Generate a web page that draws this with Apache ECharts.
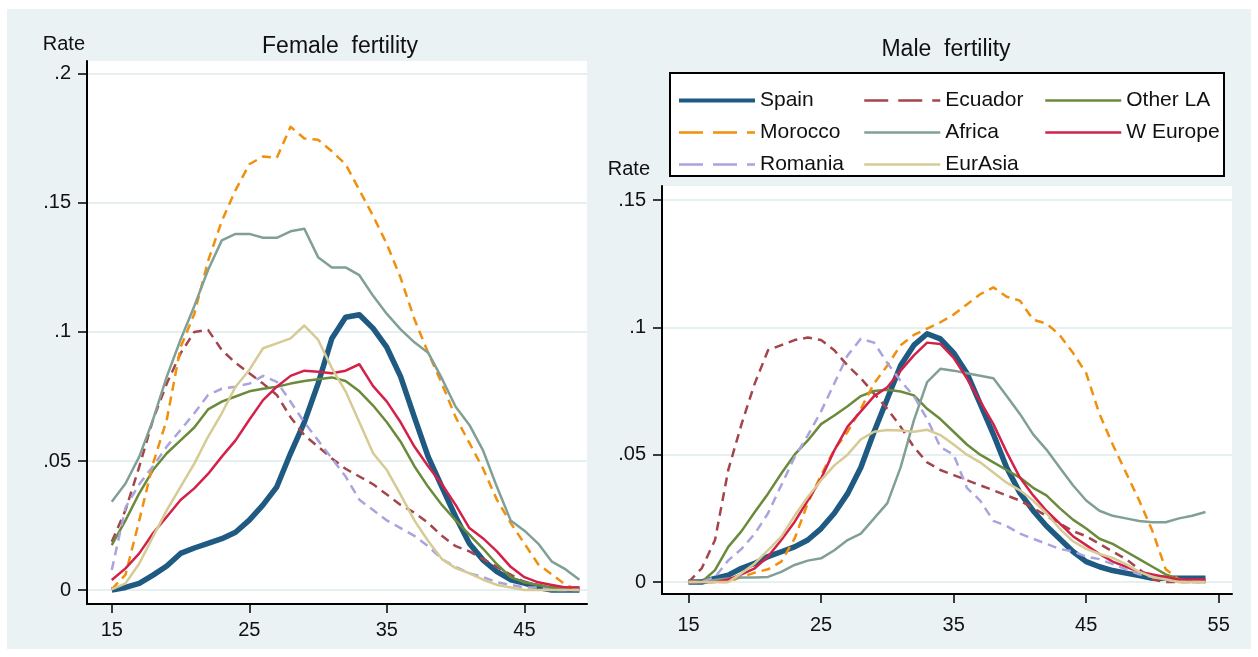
<!DOCTYPE html>
<html>
<head>
<meta charset="utf-8">
<title>Fertility by age</title>
<script src="https://cdn.jsdelivr.net/npm/echarts@6/dist/echarts.min.js"></script>
<style>
  html, body { margin: 0; padding: 0; background: #fff; }
  #chart { width: 1258px; height: 657px; }
</style>
</head>
<body>
<div id="chart"></div>
<script>
/////////  DATA ////////////////
const agesFemale = [15,16,17,18,19,20,21,22,23,24,25,26,27,28,29,30,31,32,33,34,35,36,37,38,39,40,41,42,43,44,45,46,47,48,49];
const agesMale = [15,16,17,18,19,20,21,22,23,24,25,26,27,28,29,30,31,32,33,34,35,36,37,38,39,40,41,42,43,44,45,46,47,48,49,50,51,52,53,54];

const xTicksFemale = [15, 25, 35, 45];
const xTicksMale = [15, 25, 35, 45, 55];
const yTicksFemale = [0, 0.05, 0.1, 0.15, 0.2];
const yTicksMale = [0, 0.05, 0.1, 0.15];

// female rates, ages 15-49
const spainF   = [0,0.001,0.0026,0.0058,0.0093,0.0142,0.0163,0.0181,0.0199,0.0224,0.0271,0.033,0.040,0.053,0.065,0.080,0.0975,0.1057,0.1067,0.1014,0.094,0.0827,0.067,0.0517,0.040,0.0284,0.018,0.0116,0.0071,0.004,0.0027,0.001,0,0,0];
const ecuadorF = [0.0187,0.031,0.0478,0.066,0.080,0.0917,0.100,0.1008,0.093,0.088,0.084,0.080,0.0756,0.067,0.060,0.0556,0.051,0.047,0.044,0.041,0.037,0.033,0.030,0.026,0.021,0.017,0.015,0.012,0.009,0.006,0.003,0.002,0.001,0.001,0];
const otherLaF = [0.0174,0.027,0.0375,0.0465,0.053,0.058,0.063,0.070,0.073,0.075,0.077,0.078,0.0788,0.080,0.081,0.0817,0.0824,0.081,0.077,0.0715,0.065,0.0575,0.048,0.040,0.033,0.027,0.0215,0.016,0.010,0.005,0.003,0.002,0.001,0.001,0.001];
const moroccoF = [0.0003,0.006,0.027,0.049,0.066,0.094,0.107,0.1275,0.143,0.155,0.165,0.168,0.1675,0.1795,0.175,0.1745,0.170,0.165,0.155,0.145,0.134,0.121,0.105,0.092,0.080,0.067,0.057,0.047,0.035,0.026,0.018,0.010,0.006,0.002,0];
const africaF  = [0.0342,0.0413,0.0517,0.066,0.0827,0.097,0.110,0.124,0.1355,0.138,0.138,0.1365,0.1365,0.139,0.140,0.129,0.125,0.125,0.122,0.114,0.107,0.101,0.096,0.092,0.082,0.071,0.064,0.054,0.040,0.027,0.023,0.018,0.011,0.008,0.004];
const wEuropeF = [0.0039,0.0084,0.0142,0.022,0.0284,0.0349,0.0394,0.045,0.0517,0.058,0.066,0.0736,0.0788,0.083,0.085,0.0846,0.084,0.085,0.0875,0.079,0.073,0.065,0.0556,0.048,0.041,0.033,0.024,0.020,0.015,0.009,0.005,0.003,0.002,0.001,0.001];
const romaniaF = [0.0078,0.032,0.041,0.048,0.0556,0.062,0.0685,0.0756,0.078,0.0788,0.080,0.083,0.0807,0.073,0.065,0.058,0.051,0.044,0.035,0.031,0.027,0.024,0.021,0.017,0.012,0.009,0.0065,0.005,0.003,0.002,0.001,0.001,0,0,0];
const eurAsiaF = [0.0003,0.0026,0.0103,0.0207,0.031,0.040,0.049,0.0594,0.0685,0.0788,0.0853,0.0937,0.0956,0.0975,0.1025,0.097,0.086,0.077,0.065,0.053,0.0465,0.037,0.027,0.019,0.012,0.0085,0.0065,0.004,0.002,0.001,0,0,0,0,0];

// male rates, ages 15-54
const spainM   = [0,0,0.0014,0.0027,0.0054,0.0073,0.010,0.0119,0.0138,0.0165,0.021,0.027,0.0347,0.045,0.059,0.072,0.085,0.093,0.0975,0.0955,0.090,0.082,0.070,0.058,0.045,0.035,0.028,0.022,0.017,0.012,0.008,0.006,0.0045,0.0035,0.0025,0.0015,0.0015,0.0015,0.0015,0.0015];
const ecuadorM = [0,0.0054,0.0165,0.044,0.062,0.078,0.091,0.093,0.095,0.096,0.095,0.091,0.085,0.080,0.074,0.068,0.061,0.053,0.047,0.044,0.042,0.040,0.038,0.036,0.034,0.032,0.029,0.026,0.023,0.020,0.018,0.015,0.012,0.009,0.005,0.001,0,0,0,0];
const otherLaM = [0,0,0.0047,0.0138,0.020,0.0275,0.0347,0.0426,0.050,0.0556,0.062,0.0654,0.069,0.073,0.075,0.0755,0.0748,0.0733,0.068,0.064,0.059,0.054,0.050,0.047,0.044,0.041,0.037,0.034,0.029,0.0245,0.021,0.017,0.015,0.012,0.009,0.006,0.003,0.001,0.0005,0];
const moroccoM = [0,0,0,0,0.002,0.0037,0.005,0.008,0.017,0.031,0.042,0.052,0.059,0.068,0.078,0.085,0.093,0.097,0.0995,0.102,0.105,0.109,0.113,0.1157,0.112,0.1105,0.103,0.1015,0.097,0.090,0.082,0.066,0.054,0.043,0.032,0.020,0.005,0.001,0,0];
const africaM  = [0,0,0.0008,0.0014,0.0018,0.0018,0.002,0.004,0.0067,0.0084,0.0093,0.0125,0.0165,0.019,0.025,0.031,0.045,0.0635,0.0785,0.0837,0.083,0.082,0.081,0.080,0.073,0.066,0.058,0.052,0.045,0.038,0.032,0.028,0.026,0.025,0.024,0.0235,0.0235,0.025,0.026,0.0275];
const wEuropeM = [0,0,0,0.001,0.003,0.0054,0.010,0.0165,0.0236,0.032,0.0406,0.0517,0.061,0.067,0.073,0.0765,0.083,0.089,0.094,0.0935,0.088,0.080,0.071,0.062,0.051,0.041,0.034,0.028,0.023,0.018,0.0145,0.011,0.008,0.006,0.004,0.003,0.002,0.001,0.001,0.001];
const romaniaM = [0,0,0.002,0.0085,0.013,0.019,0.027,0.038,0.049,0.0576,0.067,0.078,0.089,0.0955,0.094,0.086,0.079,0.073,0.064,0.053,0.050,0.037,0.032,0.024,0.022,0.019,0.017,0.015,0.013,0.012,0.010,0.009,0.007,0.005,0.003,0.002,0.001,0,0,0];
const eurAsiaM = [0,0,0,0,0.0034,0.0073,0.0125,0.0178,0.026,0.0334,0.040,0.0458,0.050,0.056,0.059,0.0597,0.0595,0.059,0.0598,0.0577,0.054,0.050,0.047,0.043,0.039,0.036,0.032,0.027,0.021,0.016,0.013,0.011,0.0095,0.007,0.004,0.002,0.001,0,0,0];

/////////  STYLE ////////////////
const FONT = 'Liberation Sans';
const PANEL_BG = '#EAF2F3';
const DASH = [9, 6];
const LEGEND_DASH = [24, 10];

// name, female values, male values, colour, width, dashed
const groups = [
  ['Spain',    spainF,   spainM,   '#1F5A82', 5.5, false],
  ['Ecuador',  ecuadorF, ecuadorM, '#A4454B', 2.5, true],
  ['Other LA', otherLaF, otherLaM, '#6A8B3B', 2.5, false],
  ['Morocco',  moroccoF, moroccoM, '#F0900C', 2.5, true],
  ['Africa',   africaF,  africaM,  '#80A096', 2.5, false],
  ['W Europe', wEuropeF, wEuropeM, '#D42149', 2.5, false],
  ['Romania',  romaniaF, romaniaM, '#A9A3DE', 2.5, true],
  ['EurAsia',  eurAsiaF, eurAsiaM, '#D6CB94', 2.5, false]
];

function pairs(ages, vals) {
  return ages.map((a, i) => [a, vals[i]]);
}

function rateLabel(v) {
  if (v === 0) return '0';
  return String(v).replace(/^0/, '');
}

const series = [];
groups.forEach(g => {
  [[0, agesFemale, g[1]], [1, agesMale, g[2]]].forEach(([idx, ages, vals]) => {
    series.push({
      name: g[0],
      type: 'line',
      xAxisIndex: idx,
      yAxisIndex: idx,
      data: pairs(ages, vals),
      showSymbol: false,
      symbol: 'none',
      lineStyle: {
        color: g[3],
        width: g[4],
        type: g[5] ? DASH : 'solid',
        cap: 'butt',
        join: 'round'
      },
      itemStyle: { color: g[3] },
      emphasis: { disabled: true }
    });
  });
});

function xAxis(gridIndex, min, max, ticks, margin) {
  return {
    type: 'value',
    gridIndex: gridIndex,
    min: min,
    max: max,
    axisLine: { show: true, onZero: false, lineStyle: { color: '#000', width: 2 } },
    axisTick: { show: true, length: 9, customValues: ticks, lineStyle: { color: '#000', width: 1.5 } },
    axisLabel: { customValues: ticks, color: '#111', fontFamily: FONT, fontSize: 20, margin: margin },
    splitLine: { show: false }
  };
}

function yAxis(gridIndex, min, max, ticks, padRight) {
  return {
    type: 'value',
    gridIndex: gridIndex,
    min: min,
    max: max,
    name: 'Rate',
    nameLocation: 'end',
    nameGap: 7,
    nameTextStyle: { color: '#111', fontFamily: FONT, fontSize: 20, align: 'right', padding: [0, padRight, 0, 0] },
    axisLine: { show: true, lineStyle: { color: '#000', width: 2 } },
    axisTick: { show: true, length: 9, customValues: ticks, lineStyle: { color: '#000', width: 1.5 } },
    axisLabel: { customValues: ticks, color: '#111', fontFamily: FONT, fontSize: 20, margin: 16, padding: [8, 0, 0, 0], formatter: rateLabel },
    splitLine: { show: true, lineStyle: { color: '#E6F0F0', width: 2 } }
  };
}

// legend entry: same colour as the series, longer dashes and a thicker Spain sample
function legendItem(name) {
  const g = groups.find(x => x[0] === name);
  return {
    name: name,
    lineStyle: {
      width: g[4] > 3 ? 4 : 2.5,
      type: g[5] ? LEGEND_DASH : 'solid'
    }
  };
}

function legendColumn(left, names) {
  return {
    orient: 'vertical',
    left: left,
    top: 90,
    padding: 0,
    itemWidth: 76,
    itemHeight: 20,
    itemGap: 11,
    selectedMode: false,
    itemStyle: { opacity: 0 },
    textStyle: { color: '#111', fontFamily: FONT, fontSize: 21, lineHeight: 20 },
    data: names.map(legendItem)
  };
}

const chart = echarts.init(document.getElementById('chart'), null, { renderer: 'canvas' });

const option = {
  animation: false,
  backgroundColor: '#fff',
  grid: [
    { left: 87, top: 61, width: 500, height: 543, show: true, backgroundColor: '#fff', borderWidth: 0 },
    { left: 662, top: 186, width: 570, height: 408, show: true, backgroundColor: '#fff', borderWidth: 0 }
  ],
  xAxis: [
    xAxis(0, 13.2, 49.55, xTicksFemale, 16),
    xAxis(1, 13.0, 56.0, xTicksMale, 21)
  ],
  yAxis: [
    yAxis(0, -0.0054, 0.205, yTicksFemale, 2),
    yAxis(1, -0.0047, 0.1555, yTicksMale, 12)
  ],
  legend: [
    legendColumn(677, ['Spain', 'Morocco', 'Romania']),
    legendColumn(863, ['Ecuador', 'Africa', 'EurAsia']),
    legendColumn(1044, ['Other LA', 'W Europe'])
  ],
  graphic: [
    { type: 'rect', z: -10, shape: { x: 7, y: 9, width: 1244, height: 640 }, style: { fill: PANEL_BG } },
    { type: 'rect', z: 1, shape: { x: 670, y: 73, width: 554, height: 103 }, style: { fill: '#fff', stroke: '#000', lineWidth: 2 } },
    { type: 'text', z: 5, x: 340, y: 47, style: { text: 'Female  fertility', fill: '#111', font: '23px "' + FONT + '"', align: 'center', verticalAlign: 'middle' } },
    { type: 'text', z: 5, x: 946, y: 50, style: { text: 'Male  fertility', fill: '#111', font: '23px "' + FONT + '"', align: 'center', verticalAlign: 'middle' } }
  ],
  series: series
};

chart.setOption(option);
</script>
</body>
</html>
